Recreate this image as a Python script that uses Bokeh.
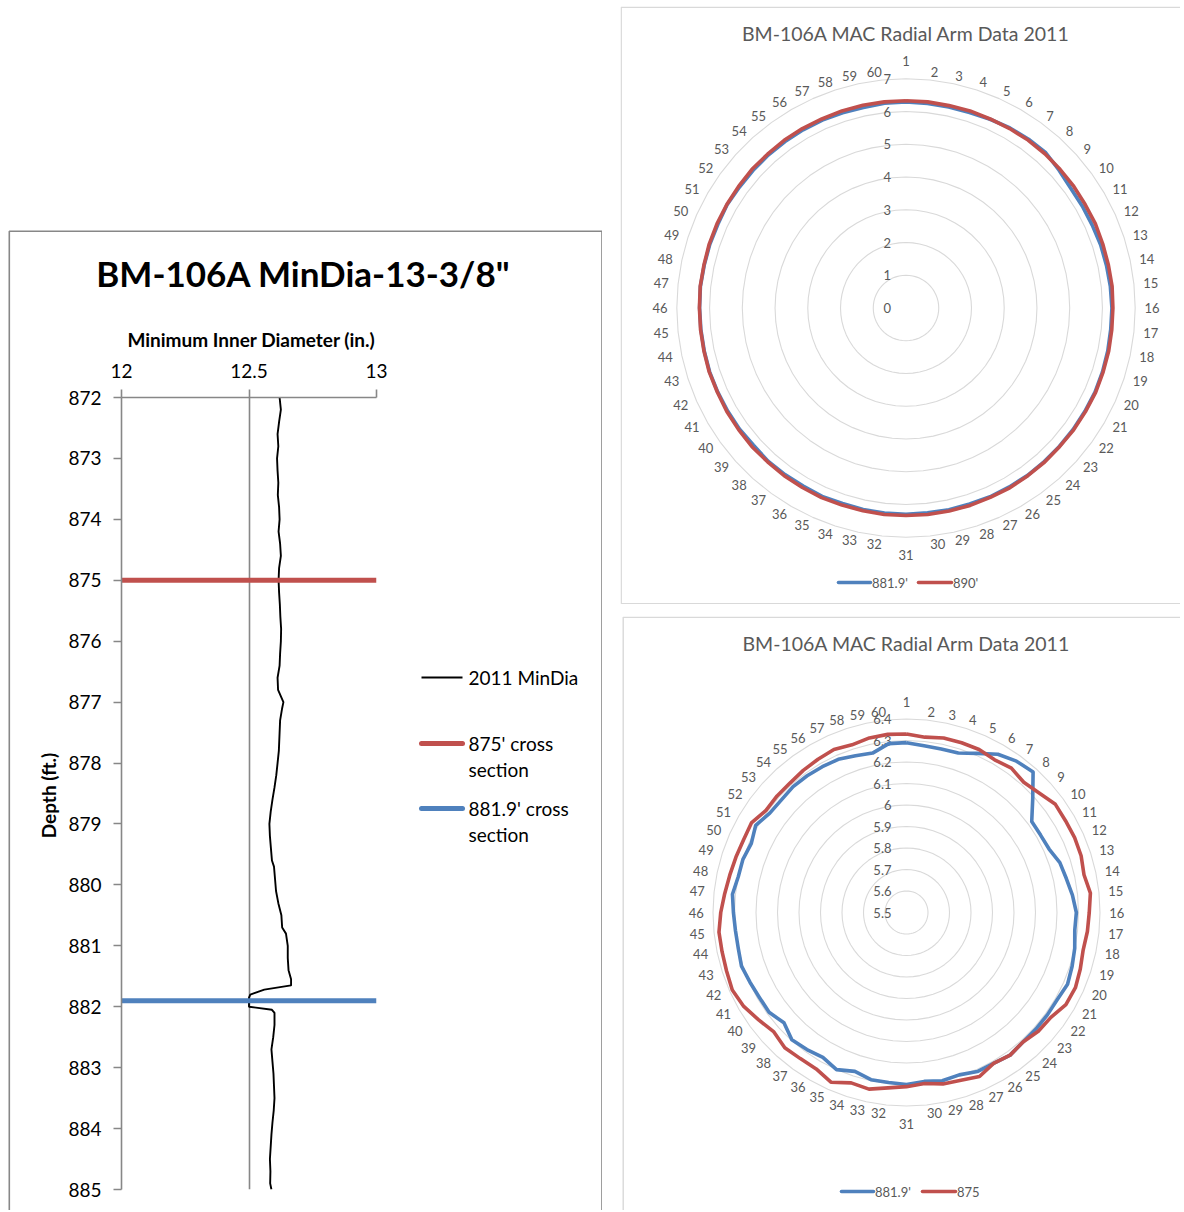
import math
from bokeh.plotting import figure
from bokeh.models import Range1d, FixedTicker, Spacer
from bokeh.layouts import row, column
from bokeh.embed import file_html
from bokeh.resources import INLINE
from bokeh.core.properties import value

FONT = "Lato"

# ---------------- data: left chart (minimum inner diameter vs depth) ----------------
depth_ft = [872.0, 872.2, 872.4, 872.6, 872.8, 873.0, 873.2, 873.4, 873.6, 873.8,
            874.0, 874.2, 874.4, 874.6, 874.8, 875.0, 875.2, 875.4, 875.6, 875.8,
            876.0, 876.2, 876.4, 876.6, 876.8, 877.0, 877.1, 877.3, 877.5, 877.8,
            878.0, 878.2, 878.4, 878.6, 878.8, 879.0, 879.2, 879.4, 879.6, 879.7,
            879.9, 880.1, 880.3, 880.5, 880.7, 880.8, 881.0, 881.2, 881.4, 881.55,
            881.65, 881.72, 881.8, 881.85, 881.95, 882.0, 882.05, 882.1, 882.3, 882.5,
            882.7, 882.9, 883.1, 883.3, 883.5, 883.7, 883.9, 884.1, 884.3, 884.5,
            884.7, 884.9, 885.0]
min_dia_in = [12.620, 12.625, 12.618, 12.612, 12.615, 12.610, 12.612, 12.615, 12.613, 12.618,
              12.620, 12.616, 12.622, 12.625, 12.618, 12.616, 12.618, 12.621, 12.623, 12.626,
              12.625, 12.622, 12.620, 12.612, 12.614, 12.635, 12.630, 12.622, 12.620, 12.617,
              12.612, 12.607, 12.600, 12.592, 12.585, 12.580, 12.582, 12.586, 12.590, 12.598,
              12.602, 12.606, 12.615, 12.627, 12.630, 12.645, 12.652, 12.652, 12.655, 12.665,
              12.665, 12.560, 12.505, 12.500, 12.500, 12.500, 12.590, 12.600, 12.600, 12.595,
              12.588, 12.592, 12.596, 12.598, 12.600, 12.597, 12.592, 12.588, 12.585, 12.582,
              12.584, 12.583, 12.588]
x_ticks = [12, 12.5, 13]
x_tick_labels = {12: "12", 12.5: "12.5", 13: "13"}
y_ticks = [872, 873, 874, 875, 876, 877, 878, 879, 880, 881, 882, 883, 884, 885]
section_depths = [875, 881.9]
left_title = 'BM-106A MinDia-13-3/8"'
x_title = "Minimum Inner Diameter (in.)"
y_title = "Depth (ft.)"
legend_texts = [["2011 MinDia"], ["875' cross", "section"], ["881.9' cross", "section"]]

# ---------------- data: radar charts ----------------
arm_numbers = list(range(1, 61))
radius_881_9 = [6.29, 6.28, 6.277, 6.28, 6.31, 6.35, 6.37, 6.38, 6.29, 6.22,
                6.22, 6.226, 6.25, 6.26, 6.276, 6.29, 6.287, 6.30, 6.31, 6.32,
                6.31, 6.31, 6.31, 6.31, 6.32, 6.31, 6.31, 6.294, 6.30, 6.29,
                6.30, 6.295, 6.295, 6.277, 6.30, 6.278, 6.288, 6.297, 6.267, 6.29,
                6.29, 6.297, 6.307, 6.30, 6.30, 6.305, 6.314, 6.30, 6.30, 6.29,
                6.31, 6.286, 6.283, 6.288, 6.286, 6.283, 6.28, 6.267, 6.258, 6.29]
radius_890 = [6.33, 6.33, 6.32, 6.33, 6.32, 6.33, 6.34, 6.34, 6.33, 6.33,
              6.32, 6.33, 6.32, 6.32, 6.33, 6.32, 6.32, 6.33, 6.33, 6.34,
              6.33, 6.33, 6.32, 6.33, 6.33, 6.34, 6.33, 6.34, 6.34, 6.34,
              6.34, 6.34, 6.33, 6.33, 6.34, 6.33, 6.33, 6.32, 6.33, 6.32,
              6.32, 6.31, 6.32, 6.31, 6.31, 6.31, 6.32, 6.31, 6.32, 6.32,
              6.32, 6.32, 6.33, 6.32, 6.33, 6.33, 6.32, 6.33, 6.33, 6.33]
radius_875 = [6.33, 6.32, 6.33, 6.33, 6.33, 6.32, 6.33, 6.315, 6.33, 6.356,
              6.354, 6.356, 6.354, 6.344, 6.36, 6.35, 6.346, 6.34, 6.35, 6.36,
              6.356, 6.33, 6.325, 6.31, 6.32, 6.31, 6.335, 6.32, 6.315, 6.30,
              6.31, 6.32, 6.34, 6.333, 6.364, 6.34, 6.34, 6.346, 6.33, 6.35,
              6.374, 6.387, 6.38, 6.377, 6.377, 6.364, 6.35, 6.34, 6.334, 6.33,
              6.333, 6.308, 6.31, 6.31, 6.317, 6.323, 6.33, 6.32, 6.33, 6.333]
top_ring_values = [1, 2, 3, 4, 5, 6, 7]
top_axis_ticks = [0, 1, 2, 3, 4, 5, 6, 7]
bottom_ring_values = [5.6, 5.7, 5.8, 5.9, 6.0, 6.1, 6.2, 6.3, 6.4]
bottom_axis_ticks = [5.5, 5.6, 5.7, 5.8, 5.9, 6.0, 6.1, 6.2, 6.3, 6.4]
bottom_axis_labels = ["5.5", "5.6", "5.7", "5.8", "5.9", "6", "6.1", "6.2", "6.3", "6.4"]
radar_title = "BM-106A MAC Radial Arm Data 2011"

BLUE = "#4F81BD"
RED = "#C0504D"
GRAY_TXT = "#595959"
AXIS_GRAY = "#878787"

# ======================= LEFT CHART =======================
LW, LH = 594, 980
LB_L, LB_R, LB_T, LB_B = 113, 226, 167, 21
PAGE_X0, PAGE_Y0 = 8, 230          # page position of left figure canvas
FW, FH = LW - LB_L - LB_R, LH - LB_T - LB_B


def lpx(px):
    return x_ticks[0] + (px - PAGE_X0 - LB_L) / FW * (x_ticks[-1] - x_ticks[0])


def lpy(py):
    return y_ticks[0] + (py - PAGE_Y0 - LB_T) / FH * (y_ticks[-1] - y_ticks[0])


p1 = figure(width=LW, height=LH,
            x_range=Range1d(x_ticks[0], x_ticks[-1]),
            y_range=Range1d(y_ticks[-1], y_ticks[0]),
            x_axis_location="above",
            min_border_left=LB_L, min_border_right=LB_R,
            min_border_top=LB_T, min_border_bottom=LB_B,
            output_backend="svg", toolbar_location=None)
p1.outline_line_color = None
p1.background_fill_color = "white"
p1.border_fill_color = "white"

for ax in (p1.xaxis[0], p1.yaxis[0]):
    ax.axis_line_color = AXIS_GRAY
    ax.axis_line_width = 1.6
    ax.major_tick_line_color = AXIS_GRAY
    ax.major_tick_line_width = 1.6
    ax.major_tick_out = 8
    ax.major_tick_in = 0
    ax.minor_tick_line_color = None
    ax.major_label_text_font = FONT
    ax.major_label_text_font_size = "19px"
    ax.major_label_text_color = "#000000"
    ax.major_label_standoff = 12

p1.xaxis.ticker = FixedTicker(ticks=x_ticks)
p1.xaxis.major_label_overrides = x_tick_labels
p1.yaxis.ticker = FixedTicker(ticks=y_ticks)
p1.xgrid.ticker = FixedTicker(ticks=x_ticks)
p1.xgrid.grid_line_color = AXIS_GRAY
p1.xgrid.grid_line_width = 1.6
p1.ygrid.grid_line_color = None

p1.line(min_dia_in, depth_ft, line_color="black", line_width=1.9)
p1.segment(x0=[x_ticks[0]] * 2, x1=[x_ticks[-1]] * 2, y0=section_depths, y1=section_depths,
           line_color=[RED, BLUE], line_width=5)


def ltext(px, py, txt, size, bold=False, align="center", angle=0.0):
    r = p1.text(x=[lpx(px)], y=[lpy(py)], text=[txt], angle=angle,
                text_font=value(FONT), text_font_size=size,
                text_font_style="bold" if bold else "normal",
                text_align=align, text_baseline="middle", text_color="black")
    r.level = "overlay"


ltext(303, 272, left_title, "35px", bold=True)
ltext(251, 339, x_title, "19px", bold=True)
ltext(48, 795, y_title, "19px", bold=True, angle=math.pi / 2)

# legend (manual)
leg_y = [677, 743, 808]
leg_colors = ["black", RED, BLUE]
leg_widths = [1.9, 5, 5]
for yy, col, lw, lines in zip(leg_y, leg_colors, leg_widths, legend_texts):
    r = p1.line([lpx(421), lpx(462)], [lpy(yy), lpy(yy)], line_color=col, line_width=lw,
                line_cap="round" if lw > 2 else "butt")
    r.level = "overlay"
    for i, t in enumerate(lines):
        ltext(468, yy + 26 * i, t, "19px", align="left")

# box border
bx = [lpx(601.5), lpx(601.5), lpx(8.8), lpx(8.8)]
by = [lpy(1215), lpy(230.8), lpy(230.8), lpy(1215)]
rb = p1.line(bx, by, line_color=AXIS_GRAY, line_width=1.6)
rb.level = "overlay"

# ======================= RADAR CHARTS =======================
RW = 560


def make_radar(page_x0, page_y0, height, cx_page, cy_page, scale, rmin, rings, ticks,
               tick_labels, series, legend_spec, border_left, border_bottom):
    cx = cx_page - page_x0
    cy = cy_page - page_y0
    p = figure(width=RW, height=height,
               x_range=Range1d(-cx / scale, (RW - cx) / scale),
               y_range=Range1d(-(height - cy) / scale, cy / scale),
               min_border=0, x_axis_type=None, y_axis_type=None,
               output_backend="svg", toolbar_location=None)
    p.outline_line_color = None
    p.background_fill_color = "white"
    p.border_fill_color = "white"

    def dx(px):
        return (px - cx_page) / scale

    def dy(py):
        return (cy_page - py) / scale

    n = len(arm_numbers)
    ang = [2 * math.pi * (k - 1) / n for k in arm_numbers]

    # ring gridlines
    for rv in rings:
        rr = rv - rmin
        xs = [rr * math.sin(a) for a in ang] + [0.0]
        ys = [rr * math.cos(a) for a in ang] + [rr]
        p.line(xs, ys, line_color="#D9D9D9", line_width=1.1)

    # value-axis labels
    p.text(x=[0.0] * len(ticks), y=[t - rmin for t in ticks], text=tick_labels,
           x_offset=-15, text_align="right", text_baseline="middle",
           text_font=value(FONT), text_font_size="13px", text_color=GRAY_TXT)

    # category labels
    ring_px = (rings[-1] - rmin) * scale
    lx, ly, lt = [], [], []
    for k, a in zip(arm_numbers, ang):
        s, c = math.sin(a), math.cos(a)
        sg = 0 if abs(s) < 1e-6 else (1 if s > 0 else -1)
        hw = 3.4 * len(str(k))
        ox = (ring_px + 10) * s + hw * sg
        oy = (ring_px + 8.5) * c
        if abs(s) < 1e-6:
            oy += 9 * (1 if c > 0 else -1)
        lx.append(ox / scale)
        ly.append(oy / scale)
        lt.append(str(k))
    p.text(x=lx, y=ly, text=lt, text_align="center", text_baseline="middle",
           text_font=value(FONT), text_font_size="13px", text_color=GRAY_TXT)

    # series
    for vals, col in series:
        xs = [(v - rmin) * math.sin(a) for v, a in zip(vals, ang)]
        ys = [(v - rmin) * math.cos(a) for v, a in zip(vals, ang)]
        xs.append(xs[0])
        ys.append(ys[0])
        p.line(xs, ys, line_color=col, line_width=3.6, line_join="round")

    # title
    p.text(x=[dx(cx_page)], y=[dy(page_y0 + 27)], text=[radar_title],
           text_align="center", text_baseline="middle",
           text_font=value(FONT), text_font_size="19.5px", text_color=GRAY_TXT)

    # legend
    ly_page, items = legend_spec
    for (x0, x1, col, txt) in items:
        p.line([dx(x0), dx(x1)], [dy(ly_page), dy(ly_page)], line_color=col,
               line_width=3.6, line_cap="round")
        p.text(x=[dx(x1 + 1.5)], y=[dy(ly_page)], text=[txt], text_align="left",
               text_baseline="middle", text_font=value(FONT), text_font_size="13px",
               text_color=GRAY_TXT)

    # border (left, top, and bottom when visible)
    bxs = [dx(border_left), dx(border_left), dx(page_x0 + RW + 5)]
    bys = [dy(border_bottom), dy(page_y0 + 0.7), dy(page_y0 + 0.7)]
    p.line(bxs, bys, line_color="#D9D9D9", line_width=1.4)
    if border_bottom < page_y0 + height:
        p.line([dx(border_left), dx(page_x0 + RW + 5)], [dy(border_bottom)] * 2,
               line_color="#D9D9D9", line_width=1.4)
    return p


p_top = make_radar(620, 6, 598, 905.5, 307.5, 32.74, 0, top_ring_values, top_axis_ticks,
                   [str(t) for t in top_axis_ticks],
                   [(radius_881_9, BLUE), (radius_890, RED)],
                   (582, [(838, 870, BLUE, "881.9'"), (918, 951, RED, "890'")]),
                   620.7, 603.3)
p_bot = make_radar(620, 616, 594, 906, 912, 215.0, 5.5, bottom_ring_values, bottom_axis_ticks,
                   bottom_axis_labels,
                   [(radius_881_9, BLUE), (radius_875, RED)],
                   (1191, [(841, 873, BLUE, "881.9'"), (922, 955, RED, "875")]),
                   622.7, 1300)

left_col = column(Spacer(width=LW, height=224), p1)
right_col = column(p_top, Spacer(width=RW, height=12), p_bot)
body = row(Spacer(width=8, height=10), left_col, Spacer(width=18, height=10), right_col)
layout = column(Spacer(width=10, height=6), body)

open("out.html", "w").write(file_html(layout, INLINE, title="BM-106A"))
